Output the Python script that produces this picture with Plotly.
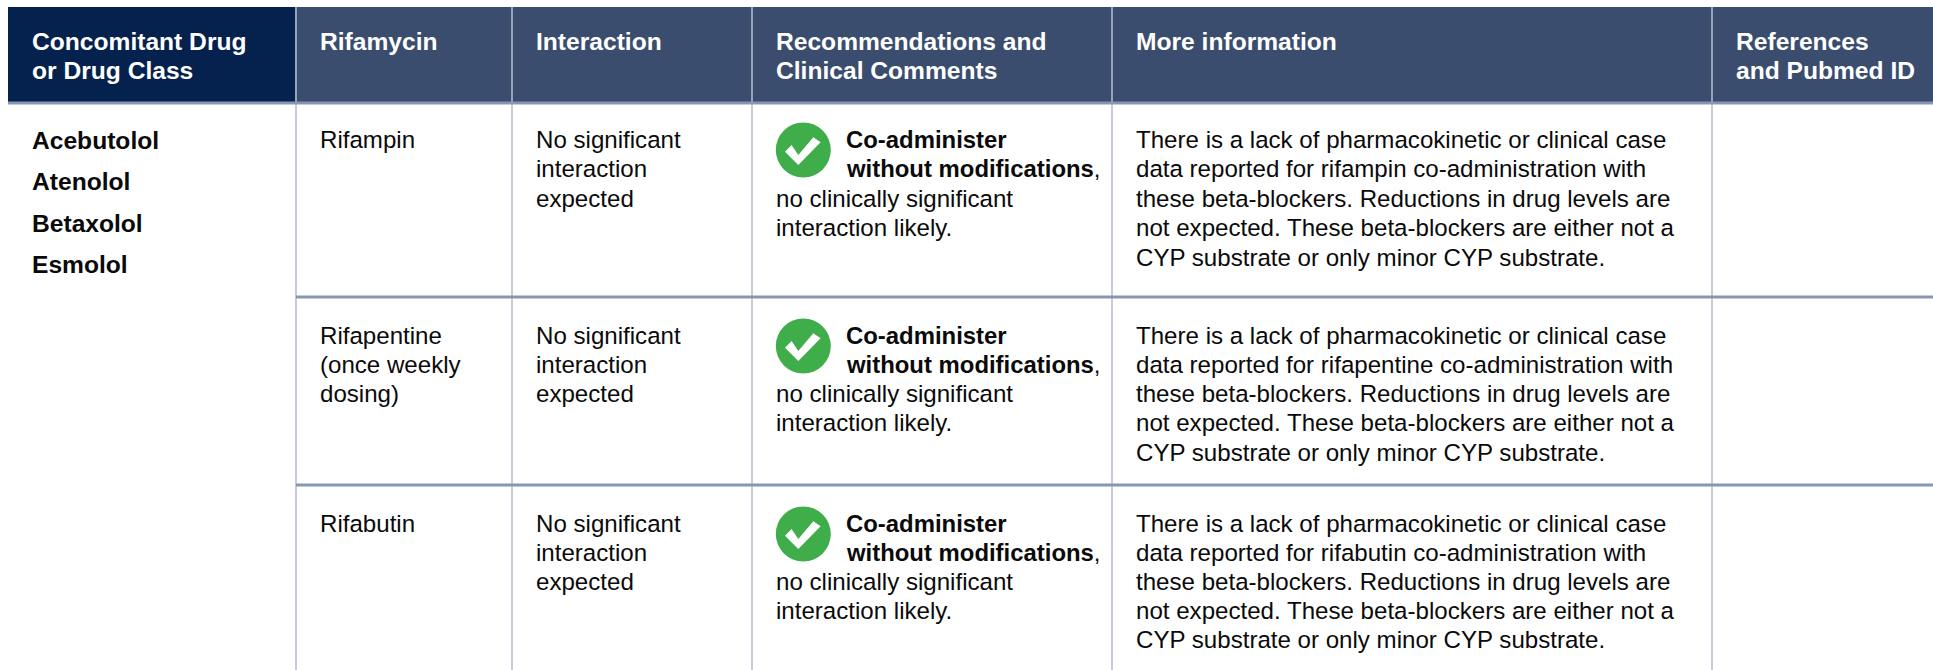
import plotly.graph_objects as go

headers = [
    ["Concomitant Drug", "or Drug Class"],
    ["Rifamycin"],
    ["Interaction"],
    ["Recommendations and", "Clinical Comments"],
    ["More information"],
    ["References", "and Pubmed ID"],
]
drugs = ["Acebutolol", "Atenolol", "Betaxolol", "Esmolol"]
rifamycins = [["Rifampin"], ["Rifapentine", "(once weekly", "dosing)"], ["Rifabutin"]]
interaction = ["No significant", "interaction", "expected"]
rec_bold = ["Co-administer", "without modifications"]
rec_plain = ["no clinically significant", "interaction likely."]
names = ["rifampin", "rifapentine", "rifabutin"]
info = [
    "There is a lack of pharmacokinetic or clinical case",
    "data reported for {} co-administration with",
    "these beta-blockers. Reductions in drug levels are",
    "not expected. These beta-blockers are either not a",
    "CYP substrate or only minor CYP substrate.",
]

col_edges = [8, 296, 512, 752, 1112, 1712, 1933]
header_top, header_bot = 7, 102
row_lines = [297, 485]
row_first_text = [139, 335, 523]
row_line_h = [29.5, 29.3, 29.0]
icon_y = [150, 346, 534]
check_dx = [-18.3, -11.7, -5, 10, 17.3, -5, -18.3]
check_dy = [1.7, -5, 5, -12.7, -7.7, 15, 1.7]
header_line_h = 29.5
pad = 22
FONT = "Liberation Sans"
SIZE = 24.1
INK = "#0a0a0a"

fig = go.Figure()
shapes, notes = [], []


def text(x, y, s, bold=False, color=INK, size=SIZE):
    notes.append(dict(x=x, y=y, text=f"<b>{s}</b>" if bold else s, showarrow=False,
                      xanchor="left", yanchor="middle", xref="x", yref="y",
                      font=dict(family=FONT, size=size, color=color)))


for i in range(6):
    shapes.append(dict(type="rect", x0=col_edges[i], x1=col_edges[i + 1], y0=header_top, y1=header_bot,
                       fillcolor="#05214d" if i == 0 else "#3a4d6e", line_width=0, layer="below"))
    for j, s in enumerate(headers[i]):
        text(col_edges[i] + pad, 41 + j * header_line_h, s, bold=True, color="white", size=24.6)

for x in col_edges[1:-1]:
    shapes.append(dict(type="line", x0=x, x1=x, y0=header_top, y1=header_bot, line=dict(color="#97a3b6", width=2)))
    shapes.append(dict(type="line", x0=x, x1=x, y0=header_bot, y1=670, line=dict(color="#c6ccd9", width=2)))
shapes.append(dict(type="line", x0=col_edges[0], x1=1933, y0=103, y1=103, line=dict(color="#8697af", width=3)))
for y in row_lines:
    shapes.append(dict(type="line", x0=col_edges[1], x1=1933, y0=y, y1=y, line=dict(color="#8697af", width=3)))

for k, d in enumerate(drugs):
    text(col_edges[0] + pad, 140 + k * 41.6, d, bold=True, size=24.6)

for r, y0 in enumerate(row_first_text):
    lh = row_line_h[r]
    for j, s in enumerate(rifamycins[r]):
        text(col_edges[1] + pad, y0 + j * lh, s)
    for j, s in enumerate(interaction):
        text(col_edges[2] + pad, y0 + j * lh, s)
    for j, s in enumerate(rec_bold):
        tail = "," if j == 1 else ""
        notes.append(dict(x=col_edges[3] + 92, y=y0 + j * lh,
                          text=f"<b>{s}</b>{tail}", showarrow=False, xanchor="left", yanchor="middle",
                          xref="x", yref="y", font=dict(family=FONT, size=23.9, color=INK)))
    for j, s in enumerate(rec_plain):
        text(col_edges[3] + pad, y0 + (j + 2) * lh, s)
    for j, s in enumerate(info):
        text(col_edges[4] + pad, y0 + j * lh, s.format(names[r]))

    cx, cy = col_edges[3] + 51.3, icon_y[r]
    fig.add_trace(go.Scatter(x=[cx], y=[cy], mode="markers", hoverinfo="skip", showlegend=False,
                             marker=dict(symbol="circle", size=55, color="#3fae4a", line_width=0)))
    fig.add_trace(go.Scatter(x=[cx + d for d in check_dx], y=[cy + d for d in check_dy], mode="lines",
                             fill="toself", fillcolor="white", hoverinfo="skip", showlegend=False,
                             line=dict(color="white", width=0)))

fig.update_layout(
    width=1933, height=670, margin=dict(l=0, r=0, t=0, b=0),
    paper_bgcolor="white", plot_bgcolor="white", showlegend=False,
    shapes=shapes, annotations=notes,
    xaxis=dict(range=[0, 1933], visible=False, fixedrange=True),
    yaxis=dict(range=[670, 0], visible=False, fixedrange=True),
)
fig.write_html("out.html", config={"displayModeBar": False},
               post_script="document.body.style.margin='0';document.documentElement.style.overflow='hidden';")
